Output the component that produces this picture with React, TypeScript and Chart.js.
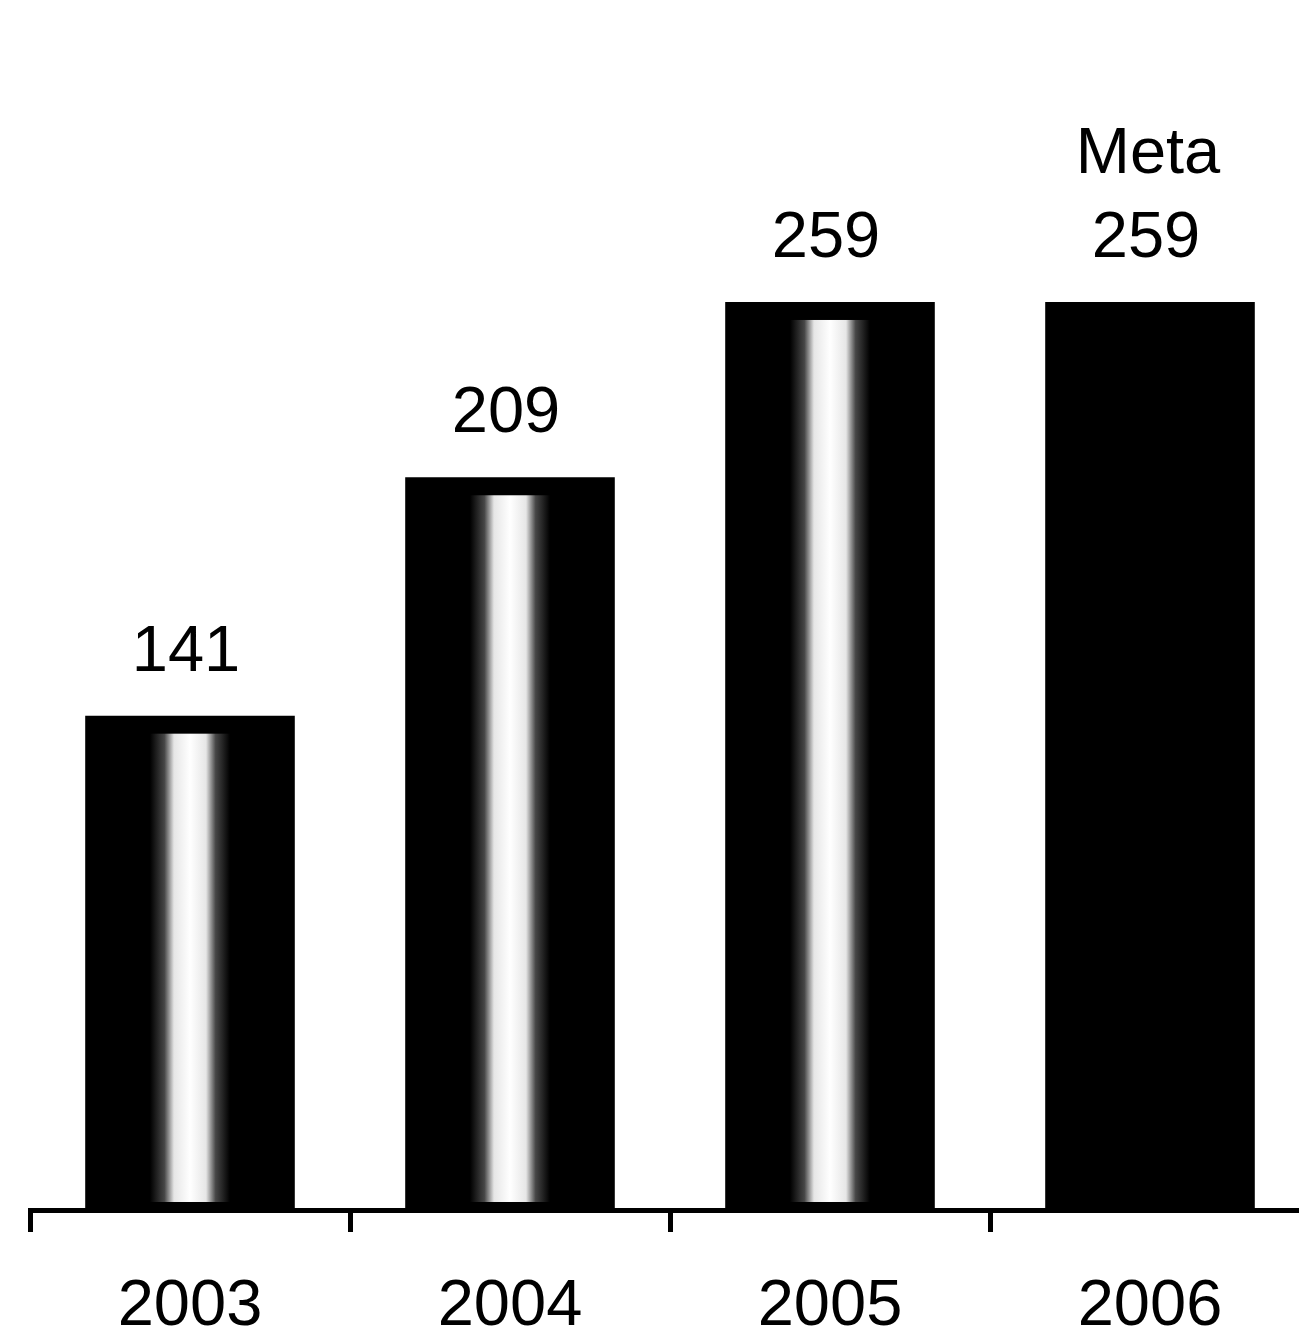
import React, { useEffect, useRef } from "react";
import { Chart, registerables } from "chart.js";

Chart.register(...registerables);

const categories: string[] = ["2003", "2004", "2005", "2006"];
const values: number[] = [141, 209, 259, 259];
const isTarget: boolean[] = [false, false, false, true];
const targetWord = "Meta";

const FONT = "'Liberation Sans', 'DejaVu Sans', sans-serif";

const stripePlugin = {
  id: "stripe",
  afterDatasetsDraw(chart: any) {
    const ctx = chart.ctx;
    const meta = chart.getDatasetMeta(0);
    meta.data.forEach((el: any, i: number) => {
      if (isTarget[i]) return;
      const x = el.x;
      const top = el.y + 18;
      const bottom = el.base - 8;
      const half = 40;
      const g = ctx.createLinearGradient(x - half, 0, x + half, 0);
      g.addColorStop(0, "rgba(0,0,0,1)");
      g.addColorStop(0.18, "rgba(70,70,70,1)");
      g.addColorStop(0.3, "rgba(230,230,230,1)");
      g.addColorStop(0.5, "rgba(255,255,255,1)");
      g.addColorStop(0.7, "rgba(230,230,230,1)");
      g.addColorStop(0.82, "rgba(70,70,70,1)");
      g.addColorStop(1, "rgba(0,0,0,1)");
      ctx.save();
      ctx.fillStyle = g;
      ctx.fillRect(x - half, top, half * 2, bottom - top);
      ctx.restore();
    });
  },
};

const labelPlugin = {
  id: "valueLabels",
  afterDatasetsDraw(chart: any) {
    const ctx = chart.ctx;
    const meta = chart.getDatasetMeta(0);
    ctx.save();
    ctx.fillStyle = "#000";
    ctx.font = `65px ${FONT}`;
    ctx.textAlign = "center";
    ctx.textBaseline = "alphabetic";
    meta.data.forEach((el: any, i: number) => {
      const base = el.y - 45;
      ctx.fillText(String(values[i]), el.x - 4, base);
      if (isTarget[i]) ctx.fillText(targetWord, el.x - 2, base - 84);
    });
    ctx.restore();
  },
};

export default function App() {
  const ref = useRef<HTMLCanvasElement | null>(null);
  useEffect(() => {
    if (!ref.current) return;
    const chart = new Chart(ref.current, {
      type: "bar",
      data: {
        labels: categories,
        datasets: [
          {
            data: values,
            backgroundColor: "#000",
            borderWidth: 0,
            barPercentage: 0.655,
            categoryPercentage: 1,
          },
        ],
      },
      options: {
        responsive: false,
        animation: false,
        layout: { padding: { left: 30, right: 20, top: 18, bottom: 0 } },
        plugins: { legend: { display: false }, tooltip: { enabled: false } },
        scales: {
          y: { display: false, min: 0, max: 340 },
          x: {
            offset: true,
            border: { display: true, color: "#000", width: 5 },
            grid: {
              display: true,
              offset: true,
              drawOnChartArea: false,
              drawTicks: true,
              tickLength: 22,
              lineWidth: 5,
              color: "#000",
            },
            ticks: {
              color: "#000",
              padding: 36,
              font: { family: FONT, size: 65 },
            },
          },
        },
      },
      plugins: [stripePlugin, labelPlugin],
    });
    return () => chart.destroy();
  }, []);
  return (
    <div style={{ position: "absolute", left: 0, top: 0, width: 1299, height: 1337, overflow: "hidden", background: "#fff" }}>
      <canvas ref={ref} width={1330} height={1382} style={{ display: "block" }} />
    </div>
  );
}
